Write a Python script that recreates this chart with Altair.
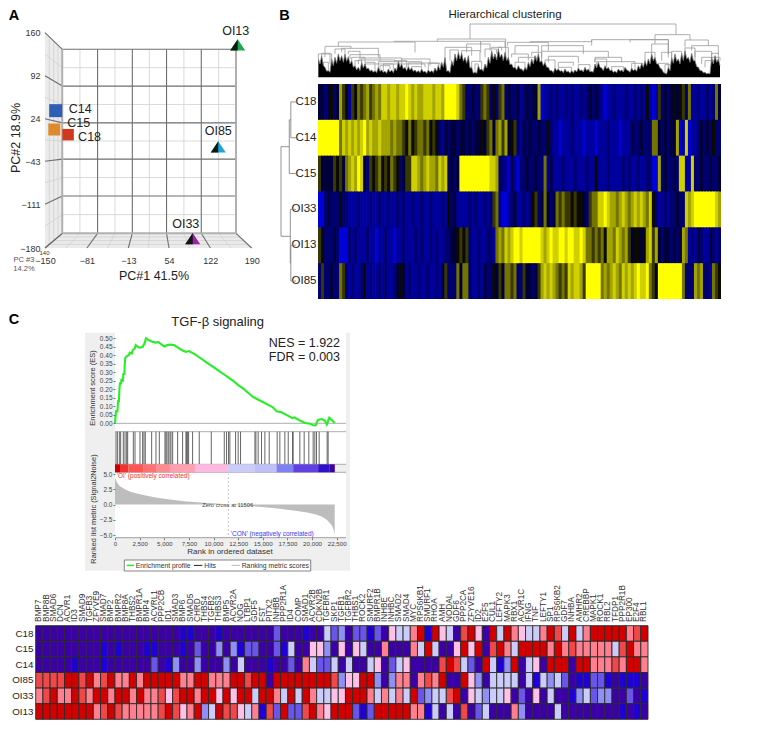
import altair as alt
import pandas as pd

FONT = "Liberation Sans"

# ---------- Panel A data ----------
PC1_TICKS = [-150, -81, -13, 54, 122, 190]
PC2_TICKS = [-180, -111, -43, 24, 92, 160]
SAMPLES_SQ = ["C14", "C15", "C18"]
SQ_PC1 = [-132.4, -134.7, -112]
SQ_PC2 = [36.9, 7.1, -1]
SQ_COL = ["#2f5fb5", "#e08a2e", "#cf3a1f"]
SQ_SIZE = [169, 144, 132]
SAMPLES_TR = ["OI13", "OI85", "OI33"]
TR_PC1 = [167, 135, 93]
TR_PC2 = [140.7, -20.4, -165]
TR_COL = ["#1fa84e", "#1ea4d8", "#a020a8"]

# ---------- Panel B data ----------
ROWS_B = ["C18", "C14", "C15", "OI33", "OI13", "OI85"]
STRIPES = {
 "C18": "3323423"+"75"+"4"+"1"+"5465"+"675676"+"88788788"+"987877"+"8887887"+"99998"+"65"+"22322"+"56524"+"2562"+"32231"
      + "23233"+"7"+"0112"+"12112121121"+"23232"+"101121112112121"+"4"+"101"+"5"+"2323"+"43"+"452"+"6"+"1121121"+"263",
 "C14": "9999999"+"6878787"+"8978"+"7787"+"776766"+"5464"+"5665"+"6454"+"2132"+"33233"+"23233"+"43563"+"6757"+"34521"
      + "3232232"+"242"+"11011121110111011121110111"+"3223222"+"66"+"323233"+"7"+"0"+"1"+"8"+"011"+"23232"+"4"+"22",
 "C15": "53"+"333"+"545"+"3"+"67"+"8798"+"32"+"5456454654"+"23"+"55"+"887678776878"+"2323"+"99999999998"+"87"+"22103102"
      + "232232"+"26"+"131"+"1121112111211"+"4"+"111211112121121122"+"00"+"7"+"232232"+"88"+"11"+"8"+"223223223",
 "OI33": "00"+"2322"+"242"+"2"+"111211"+"121121121121211211211211121"+"4231"+"11121211212"+"5"+"6"+"10012311"
      + "212"+"45"+"23"+"6"+"323"+"6565545"+"443"+"2"+"566"+"8898776787678787"+"68"+"4"+"2112122322"+"878"+"9999999"+"87",
 "OI13": "54"+"22232"+"000"+"21211"+"1211011211011211121211212112"+"233"+"4545"+"211211221"+"676878998"
      + "999999"+"8"+"78988998998898"+"66565"+"647"+"768767"+"5"+"34434"+"7857"+"32332323"+"7"+"6"+"12132113212",
 "OI85": "25"+"22322"+"65"+"212112"+"4"+"1211212112"+"343"+"1211211211213"+"5"+"222"+"6"+"3"+"6"+"6"+"21121322"+"4"+"3536"+"656"+"22"
      + "5"+"3323"+"5"+"78787"+"6565"+"87887"+"5"+"99999"+"6"+"7678768787"+"89889"+"65"+"3"+"99999999"+"6"+"222"+"767"+"221"+"654",
}
PAL_B = ["#0000d8", "#00009c", "#00006e", "#00003a", "#0a0a00", "#383800", "#747400", "#a4a400", "#d0d000", "#ffff00"]

DENDRO_PEAK = [55,65,30,20,55,60,70,65,70,62,50,35,30,45,40,28,22,20,30,22,18,25,22,28,48,40,30,32,28,22,20,25,18,22,20,28,35,45,60,20,
 50,70,75,72,60,65,30,15,35,25,40,60,80,70,85,70,75,60,40,30,35,25,30,45,55,65,70,50,45,30,20,28,25,20,25,18,20,22,28,22,30,25,18,40,45,
 28,35,30,22,18,25,22,30,20,28,24,35,42,50,55,70,60,40,25,12,30,60,70,55,72,80,60,72,50,30,20,15,12,60,65,55]
DENDRO_VALLEY = [40,35,18,15,35,42,50,45,48,40,30,22,20,28,25,18,15,14,18,15,12,16,14,20,30,25,20,22,18,15,14,16,12,15,14,18,22,30,18,14,
 35,50,55,48,42,28,12,12,22,18,28,42,55,52,60,50,50,38,28,22,25,18,22,32,40,48,45,35,30,20,14,20,18,14,16,12,14,16,20,16,20,16,15,28,30,
 20,25,20,15,14,18,16,22,15,20,18,25,30,35,40,50,40,28,15,10,20,42,48,40,50,55,45,50,32,20,14,10,10,40,45,35]
LINKS = [
 (465,1083,160,115,128),(367,572,115,108,60),(238,497,108,106,75),(70,300,106,93,75),(30,108,93,60,87),(80,190,87,75,60),
 (100,135,78,70,55),(105,195,68,55,50),(140,260,58,45,50),(130,240,52,40,45),(190,320,47,30,35),(260,345,55,40,35),
 (150,330,40,25,30),(280,370,43,30,30),(10,50,70,55,50),(390,470,90,60,65),(440,495,80,60,45),(455,525,100,75,80),
 (497,570,108,100,90),(530,560,90,85,80),(578,700,105,95,80),(600,670,95,70,60),(590,640,70,60,50),(610,665,60,45,40),
 (680,805,95,78,70),(680,880,78,60,60),(700,790,63,45,42),(730,775,45,30,35),(840,920,60,45,45),(845,960,47,30,25),
 (830,1060,113,95,70),(645,830,107,105,113),(945,1060,113,105,70),(1020,1125,128,100,112),(1010,1060,100,70,60),
 (1040,1070,75,50,60),(1110,1180,112,90,95),(1130,1210,95,80,70),(1140,1190,78,60,60),(1160,1215,60,40,50),(1170,1200,50,30,35),
 (20,45,72,65,40),(60,90,85,70,70),(110,150,60,50,45),(150,180,45,28,20),(195,225,35,22,25),(240,275,50,48,30),(290,320,32,22,25),
 (340,375,42,20,35),(405,430,82,50,75),(470,500,48,30,25),(510,545,85,60,70),(550,580,90,85,60),(600,630,45,30,30),(650,680,75,65,50),
 (690,720,52,45,28),(730,770,30,20,18),(790,825,38,28,18),(840,875,55,45,30),(890,925,32,18,22),(950,985,42,28,42),(990,1020,75,50,60),
 (1030,1060,42,40,30),(1070,1100,78,60,72),(1110,1140,88,80,50),(1190,1210,72,60,55),(25,40,45,30,20),(120,140,50,35,45),(205,235,40,18,22),
 (480,490,40,15,35),(1050,1065,38,12,30),
]
ROW_LINKS = [
 (0.5, 1.5, 1.0, 0, 0), (1.0, 2.5, 1.3, 1.0, 0), (4.5, 5.5, 1.0, 0, 0), (3.5, 5.0, 1.1, 0, 1.0), (1.75, 4.25, 2.9, 1.3, 1.1),
]

# ---------- Panel C data ----------
RANKS = [0,100,250,300,400,450,500,600,650,800,850,950,1000,1050,1200,1400,1500,1700,1800,2000,2100,2300,2500,2800,3000,3150,3400,3800,4100,4400,4700,5000,5300,5600,6000,6400,6800,7200,7500,8000,8500,9000,9500,10000,10500,11000,11500,12000,12500,13000,13500,14000,14500,15000,15500,16000,16400,16900,17400,18000,18200,18800,19300,19800,20100,20350,20600,21000,21300,21500,21750,22000,22300]
ES = [0,.07,.07,.13,.13,.2,.235,.235,.255,.25,.29,.29,.36,.385,.395,.40,.415,.41,.43,.44,.46,.45,.445,.45,.47,.50,.49,.48,.475,.478,.465,.452,.46,.463,.46,.445,.43,.42,.425,.41,.39,.37,.35,.33,.31,.29,.27,.25,.225,.205,.18,.155,.14,.125,.11,.095,.07,.065,.05,.03,.035,.015,.002,-.002,-.012,-.013,.02,.025,.015,-.008,.033,.02,.002]
HITS = [100,240,440,575,845,1015,1185,1285,1860,2030,2535,2805,2940,3075,3720,4160,4500,5070,5170,5270,5410,5580,5680,5850,6355,6860,7200,7270,7370,7470,7875,8550,9770,11090,11320,11525,11660,12240,12500,12740,14200,14300,14530,14870,15210,15650,16460,16730,17240,17580,18020,18080,18760,19200,19670,20110,20280,20450,20720,21530,21630]
BAR_EDGES = [0,507,1352,2870,4225,5577,8112,11492,14196,16393,18083,20618,21800,22308]
BAR_COLS = ["#cc0000","#ee3333","#ff5555","#ff7070","#ff8a90","#ff9fb0","#ffb8e0","#ccccfb","#c0c0f8","#8080f5","#6040e0","#3010c8","#4000a0"]
M_RANK = [0,200,500,1000,1500,2000,3000,4000,5000,6000,7000,8000,9000,10000,11000,11500,12500,13500,14500,15500,16500,17500,18500,19500,20500,21000,21500,22000,22200,22300]
M_VAL = [4.4,3.6,3.0,2.5,2.15,1.9,1.5,1.2,.95,.75,.55,.42,.3,.2,.07,0,-.12,-.22,-.35,-.5,-.65,-.85,-1.05,-1.3,-1.7,-2.0,-2.5,-3.4,-4.2,-4.9]

GENES = ["BMP7","BMP8B","SMAD6","DCN","ACVR1","ID3","SMAD9","TGFB3","ZFYVE9","SMAD7","BMP2","BMPR2","BMP8A","THBS2","BMPR1A","BMP4","ACVRL1","PPP2CB","ID1","SMAD3","BMP6","SMAD5","CHRD","THBS4","TGFB2","THBS3","BMP5","ACVR2A","NOG","LTBP1","GDF5","FST","PITX2","INHBB","PPP2R1A","ID4","COMP","SMAD1","ACVR2B","CDKN2B","TGFBR1","SKP1","TGFB1","TGFBR2","THBS1","ROCK2","SMURF2","BMPR1B","INHBE","INHBC","SMAD2","SMAD4","MYC","RPS6KB1","SMURF1","RHOA","AMH","NODAL","GDF6","PPP2CA","ZFYVE16","ID2","E2F5","CUL1","LEFTY2","MAPK3","RBX1","ACVR1C","IFNG","TNF","LEFTY1","SP1","RPS6KB2","GDF7","INHBA","AMHR2","CREBBP","MAPK1","ROCK1","RBL2","TFDP1","PPP2R1B","EP300","E2F4","RBL1"]
ROWS_C = ["C18", "C15", "C14", "OI85", "OI33", "OI13"]
HEAT_C = {
 "C18": [1]*20+[0,0,1,1,1,0,1,1,1,1,1,1,1,2,1,1,1,0,1,1,4,2,3,1]+[2,2,0,2,1,5,4,4,6,8,0,8,5,4,1,7,8,5,1,8,4,8,6,5,4,4,6,8,7,4,8,4,6,8,8,8,8,8,6,7,8],
 "C15": [1,1,1,1,1,1,1,1,1,0,1,0,1,1,1,0,0,1,1,1,0,1,2,1,1,3,1,3,0,2,2,1,1,2,0,4,1,1,5,5,3,1,5,1]+[5,4,1,1,6,1,1,1,6,4,8,4,1,1,5,8,5,8,1,7,8,6,4,8,8,8,8,6,8,6,7,6,6,6,6,6,4,7,8,6,6],
 "C14": [1,1,1,1,1,0,1,1,1,0,1,1,1,1,1,1,2,1,0,3,1,1,3,1,1,1,3,1,4,1,1,1,0,1,1,2,1,6,4,2,2,4,1,4]+[1,1,4,5,1,2,4,5,1,1,1,1,7,8,7,4,2,1,8,4,0,3,8,1,4,5,1,8,8,8,1,8,8,6,6,6,7,6,8,8,6],
 "OI85": [7,7,7,7,8,8,7,8,6,7,8,6,6,8,6,8,8,8,8,8,6,6,8,8,6,6,6,8,8,7,8,8,1,8,8,8,8,8,8,8,8,7,3,5]+[5,8,8,3,1,3,6,6,1,6,7,6,8,1,1,8,5,3,1,4,4,4,4,1,4,0,4,3,4,2,1,0,0,2,2,0,1,0,0,0,1],
 "OI33": [6,7,8,6,6,8,7,6,8,8,6,8,8,6,8,6,6,7,5,7,8,8,6,8,8,5,8,5,8,8,4,8,8,6,4,8,4,8,6,4,4,5,5,8]+[8,8,6,4,6,4,6,4,8,2,3,4,4,7,8,1,5,4,3,4,4,5,1,2,1,5,1,4,1,1,0,3,4,2,3,3,1,1,2,1,0],
 "OI13": [8,8,8,8,8,8,8,8,6,7,8,7,6,6,6,6,6,7,8,7,5,6,8,3,4,8,7,7,5,4,6,0,7,2,8,2,2,7,8,6,5,8,8,8]+[2,0,2,8,8,8,8,8,6,6,0,4,1,4,1,7,1,2,4,1,1,1,6,3,1,1,1,1,4,1,1,1,1,1,1,1,1,0,1,0,1],
}
PAL_C = ["#2000d8", "#3c00a8", "#6a55ea", "#8f8ff5", "#ccccfa", "#ffc0e8", "#ff7f8f", "#f04848", "#d40000"]

# ---------- helpers ----------
ONE = alt.Data(values=[{"a": 1}])

def sc(a, b, domain):
    return alt.Scale(domain=list(domain), range=[a - 8, b - 8], nice=False, zero=False, clamp=False)

def txt(label, sx, sy, size=10, color="#222", align="center", angle=0, weight="normal", baseline="middle"):
    kw = dict(fontSize=size, font=FONT, color=color, align=align, baseline=baseline, fontWeight=weight)
    if angle:
        kw["angle"] = angle
    return alt.Chart(ONE).mark_text(**kw).encode(x=alt.value(sx - 8), y=alt.value(sy - 8), text=alt.value(label))

def box(x0, x1, y0, y1, fill, stroke=None, sw=0):
    kw = dict(fill=fill)
    if stroke:
        kw.update(stroke=stroke, strokeWidth=sw)
    return alt.Chart(ONE).mark_rect(**kw).encode(x=alt.value(x0 - 8), x2=alt.value(x1 - 8), y=alt.value(y0 - 8), y2=alt.value(y1 - 8))

def hline(x0, x1, y, color="#888", w=1):
    return alt.Chart(ONE).mark_rule(color=color, strokeWidth=w).encode(x=alt.value(x0 - 8), x2=alt.value(x1 - 8), y=alt.value(y - 8))

layers = []

# ---------- Panel A ----------
XA = sc(45, 251.7, (-150, 190))
YA = sc(248, 32.7, (-180, 160))
BX0, BX1 = -121.5, 164.2
BY0, BY1 = -156.8, 133.8

def project(p1, p2, t):
    bx = BX0 + (p1 + 150) * (BX1 - BX0) / 340
    by = BY0 + (p2 + 180) * (BY1 - BY0) / 340
    return p1 + t * (bx - p1), p2 + t * (by - p2)

def seg(a, b):
    return {"x": a[0], "y": a[1], "x2": b[0], "y2": b[1]}

mid_x = [(a + b) / 2 for a, b in zip(PC1_TICKS, PC1_TICKS[1:])]
mid_y = [(a + b) / 2 for a, b in zip(PC2_TICKS, PC2_TICKS[1:])]
L, R, B, T = PC1_TICKS[0], PC1_TICKS[-1], PC2_TICKS[0], PC2_TICKS[-1]
minor, major = [], []
for v in mid_x:
    minor.append(seg(project(v, B, 1), project(v, T, 1)))
    minor.append(seg(project(v, B, 0), project(v, B, 1)))
for v in mid_y:
    minor.append(seg(project(L, v, 1), project(R, v, 1)))
    minor.append(seg(project(L, v, 0), project(L, v, 1)))
for t in [0.25, 0.5, 0.75]:
    minor.append(seg(project(L, B, t), project(R, B, t)))
    minor.append(seg(project(L, B, t), project(L, T, t)))
for v in PC1_TICKS:
    major.append(seg(project(v, B, 1), project(v, T, 1)))
    major.append(seg(project(v, B, 0), project(v, B, 1)))
for v in PC2_TICKS:
    major.append(seg(project(L, v, 1), project(R, v, 1)))
    major.append(seg(project(L, v, 0), project(L, v, 1)))

floor_x0, floor_y = project(L, B, 1)
floor_x1, _ = project(R, B, 1)
floor = pd.DataFrame({"x": [L, floor_x0, floor_x1, R], "y": [B, floor_y, floor_y, B], "y2": [B, B, B, B]})
wx, wy0 = project(L, B, 1)
_, wy1 = project(L, T, 1)
wall = pd.DataFrame({"x": [L, wx], "y": [B, wy0], "y2": [T, wy1]})
for d in (floor, wall):
    layers.append(alt.Chart(d).mark_area(color="#ebebeb", line=False, opacity=1).encode(
        x=alt.X("x:Q", scale=XA, axis=None), y=alt.Y("y:Q", scale=YA, axis=None), y2="y2:Q"))
layers.append(alt.Chart(pd.DataFrame(minor)).mark_rule(color="#d0d0d0", strokeWidth=0.8).encode(
    x=alt.X("x:Q", scale=XA, axis=None), x2="x2:Q", y=alt.Y("y:Q", scale=YA, axis=None), y2="y2:Q"))
layers.append(alt.Chart(pd.DataFrame(major)).mark_rule(color="#6e6e6e", strokeWidth=1.1).encode(
    x=alt.X("x:Q", scale=XA, axis=alt.Axis(orient="bottom", values=PC1_TICKS, ticks=False, domain=False, grid=False, labelFontSize=9, labelFont=FONT, labelColor="#333", labelPadding=6, labelOverlap=False, labelFlush=False, offset=250 - 732, title=None)),
    x2="x2:Q",
    y=alt.Y("y:Q", scale=YA, axis=alt.Axis(orient="left", values=PC2_TICKS, ticks=False, domain=False, grid=False, labelFontSize=9, labelFont=FONT, labelColor="#333", labelPadding=4, labelOverlap=False, labelFlush=False, offset=8 - 44, title=None)),
    y2="y2:Q"))
edge = [seg(project(R, B, 1), project(R, T, 1)), seg(project(L, B, 1), project(L, T, 1)), seg(project(L, B, 1), project(R, B, 1))]
layers.append(alt.Chart(pd.DataFrame(edge)).mark_rule(color="#b0b0b0", strokeWidth=1.8).encode(
    x=alt.X("x:Q", scale=XA, axis=None), x2="x2:Q", y=alt.Y("y:Q", scale=YA, axis=None), y2="y2:Q"))

sq = pd.DataFrame({"s": SAMPLES_SQ, "pc1": SQ_PC1, "pc2": SQ_PC2, "c": SQ_COL, "z": SQ_SIZE})
layers.append(alt.Chart(sq).mark_point(filled=True, shape="square", opacity=1).encode(
    x=alt.X("pc1:Q", scale=XA, axis=None), y=alt.Y("pc2:Q", scale=YA, axis=None),
    color=alt.Color("c:N", scale=None), size=alt.Size("z:Q", scale=None)))
tr = pd.DataFrame({"s": SAMPLES_TR, "pc1": TR_PC1, "pc2": TR_PC2, "c": TR_COL})
layers.append(alt.Chart(tr).mark_point(filled=True, shape="M -1 0.75 L 0 -0.75 L 1 0.75 Z", opacity=1, size=225).encode(
    x=alt.X("pc1:Q", scale=XA, axis=None), y=alt.Y("pc2:Q", scale=YA, axis=None), color=alt.Color("c:N", scale=None)))
layers.append(alt.Chart(tr).mark_point(filled=True, shape="M -1 0.75 L 0 -0.75 L 0 0.75 Z", opacity=1, size=225, color="#0c1a14").encode(
    x=alt.X("pc1:Q", scale=XA, axis=None), y=alt.Y("pc2:Q", scale=YA, axis=None)))

OFFS = {"C14": (13, -2, "left"), "C15": (13, -7, "left"), "C18": (10, 2, "left"), "OI13": (-2, -14, "center"), "OI85": (0, -16, "center"), "OI33": (-7, -15, "center")}
labs = pd.concat([sq[["s", "pc1", "pc2"]], tr[["s", "pc1", "pc2"]]])
for s, (dx, dy, al) in OFFS.items():
    layers.append(alt.Chart(labs[labs.s == s]).mark_text(fontSize=12.5, font=FONT, color="#222", align=al, dx=dx, dy=dy).encode(
        x=alt.X("pc1:Q", scale=XA, axis=None), y=alt.Y("pc2:Q", scale=YA, axis=None), text="s:N"))

layers += [
    txt("A", 14, 16, 14.5, "#000", weight="bold"),
    txt("PC#1 41.5%", 154, 276, 12.5),
    txt("PC#2 18.9%", 16, 138, 12.5, angle=270),
    txt("PC #3", 24, 260, 7.5, "#555"),
    txt("14.2%", 24, 269, 7.5, "#555"),
    txt("140", 44.5, 252.5, 6, "#333"),
]

# ---------- Panel B ----------
XB = sc(318, 721, (0, 134))
YB = sc(84, 299, (0, 6))
recs = []
for r, name in enumerate(ROWS_B):
    s = STRIPES[name]
    for i, ch in enumerate(s):
        recs.append({"x": i, "x2": i + 1.25 if i < len(s) - 1 else i + 1, "r": r, "r2": r + 1.03 if r < 5 else r + 1, "lvl": int(ch)})
layers.append(alt.Chart(pd.DataFrame(recs)).mark_rect().encode(
    x=alt.X("x:Q", scale=XB, axis=None), x2="x2:Q", y=alt.Y("r:Q", scale=YB, axis=None), y2="r2:Q",
    color=alt.Color("lvl:O", scale=alt.Scale(domain=list(range(10)), range=PAL_B), legend=None)))

row_lab = pd.DataFrame({"s": ROWS_B, "r": [i + 0.5 for i in range(6)]})
layers.append(alt.Chart(row_lab).mark_text(fontSize=11.5, font=FONT, color="#222", align="right").encode(
    x=alt.value(316.5 - 8), y=alt.Y("r:Q", scale=YB, axis=None), text="s:N"))

XT = sc(281, 296, (2.9, 0))
def tree_layers(rows):
    h = pd.DataFrame([{"a": a, "b": b, "d": d} for a, b, d, _, _ in rows])
    v = pd.DataFrame([{"r": a, "d": d, "d2": da} for a, b, d, da, db in rows] + [{"r": b, "d": d, "d2": db} for a, b, d, da, db in rows])
    return [
        alt.Chart(h).mark_rule(color="#888", strokeWidth=0.9).encode(x=alt.X("d:Q", scale=XT, axis=None), y=alt.Y("a:Q", scale=YB, axis=None), y2="b:Q"),
        alt.Chart(v).mark_rule(color="#888", strokeWidth=0.9).encode(x=alt.X("d:Q", scale=XT, axis=None), x2="d2:Q", y=alt.Y("r:Q", scale=YB, axis=None)),
    ]
layers += tree_layers(ROW_LINKS)

XD = sc(315, 725, (0, 1230))
YD = sc(77.3, 24, (0, 160))
px, ph = [], []
for i, (a, b) in enumerate(zip(DENDRO_PEAK, DENDRO_VALLEY)):
    px += [10 * (i + 1), 10 * (i + 1) + 5]
    ph += [a, b]
prof = pd.DataFrame({"x": px, "h": ph})
links = pd.DataFrame(LINKS, columns=["xl", "xr", "h", "hl", "hr"])
layers.append(alt.Chart(links).mark_rule(color="#9a9a9a", strokeWidth=0.8).encode(
    x=alt.X("xl:Q", scale=XD, axis=None), x2="xr:Q", y=alt.Y("h:Q", scale=YD, axis=None)))
layers.append(alt.Chart(links).mark_rule(color="#9a9a9a", strokeWidth=0.8).encode(
    x=alt.X("xl:Q", scale=XD, axis=None), y=alt.Y("h:Q", scale=YD, axis=None), y2="hl:Q"))
layers.append(alt.Chart(links).mark_rule(color="#9a9a9a", strokeWidth=0.8).encode(
    x=alt.X("xr:Q", scale=XD, axis=None), y=alt.Y("h:Q", scale=YD, axis=None), y2="hr:Q"))
layers.append(alt.Chart(prof).mark_area(color="#000", opacity=1, line={"color": "#777", "strokeWidth": 0.8}).encode(
    x=alt.X("x:Q", scale=XD, axis=None), y=alt.Y("h:Q", scale=YD, axis=None)))
layers += [
    txt("B", 284.5, 16, 14.5, "#000", weight="bold"),
    txt("Hierarchical clustering", 505, 15, 11.5),
]

# ---------- Panel C: enrichment plot ----------
layers += [
    box(85, 350, 332.7, 570.7, "#efefef"),
    box(115, 346, 332.7, 431.7, "#ffffff"),
    box(115, 346, 431.7, 464.3, "#ffffff"),
    box(115, 346, 472.3, 537.7, "#ffffff"),
    hline(115, 346, 431.7, "#999", 0.8),
    hline(115, 346, 464.3, "#999", 0.8),
    hline(115, 346, 472.3, "#999", 0.8),
    hline(115, 346, 537.7, "#888", 0.8),
]
XR = sc(115, 336.7, (0, 22500))
YE = sc(423.3, 338.3, (0, 0.5))
YM = sc(535, 474, (-5, 5))
YH = sc(464.3, 431.7, (0, 1))

layers.append(alt.Chart(pd.DataFrame({"x": [0, 23440], "y": [0, 0]})).mark_line(color="#999", strokeWidth=0.8).encode(
    x=alt.X("x:Q", scale=XR, axis=None), y=alt.Y("y:Q", scale=YE, axis=None)))
layers.append(alt.Chart(pd.DataFrame({"r": RANKS, "es": ES})).mark_line(color="#25f025", strokeWidth=2.1).encode(
    x=alt.X("r:Q", scale=XR, axis=None),
    y=alt.Y("es:Q", scale=YE, axis=alt.Axis(orient="left", zindex=1, values=[0, .05, .1, .15, .2, .25, .3, .35, .4, .45, .5], format=".2f", tickSize=2, tickColor="#777", domain=False, grid=False, labelFontSize=6.5, labelFont=FONT, labelColor="#444", labelPadding=1, labelOverlap=False, labelFlush=False, offset=8 - 115, title=None))))
layers.append(alt.Chart(pd.DataFrame({"r": HITS, "a": 0, "b": 1})).mark_rule(color="#555", strokeWidth=0.9).encode(
    x=alt.X("r:Q", scale=XR, axis=None), y=alt.Y("a:Q", scale=YH, axis=None), y2="b:Q"))
bars = pd.DataFrame({"x": BAR_EDGES[:-1], "x2": BAR_EDGES[1:], "c": BAR_COLS, "a": 0, "b": 1})
YBAR = sc(472.3, 464.3, (0, 1))
layers.append(alt.Chart(bars).mark_rect().encode(
    x=alt.X("x:Q", scale=XR, axis=None), x2="x2:Q", y=alt.Y("a:Q", scale=YBAR, axis=None), y2="b:Q", color=alt.Color("c:N", scale=None)))
layers.append(alt.Chart(pd.DataFrame({"r": [11506, 11506], "y": [-5, 5]})).mark_line(color="#aaa", strokeWidth=0.7, strokeDash=[2, 2]).encode(
    x=alt.X("r:Q", scale=XR, axis=None), y=alt.Y("y:Q", scale=YM, axis=None)))
layers.append(alt.Chart(pd.DataFrame({"r": M_RANK, "m": M_VAL})).mark_area(color="#bdbdbd", opacity=1).encode(
    x=alt.X("r:Q", scale=XR, axis=alt.Axis(orient="bottom", zindex=1, values=list(range(0, 22501, 2500)), format=",d", tickSize=2, tickColor="#777", domain=False, grid=False, labelFontSize=6.2, labelFont=FONT, labelColor="#444", labelPadding=1, labelOverlap=False, labelFlush=False, offset=537.7 - 732, title=None)),
    y=alt.Y("m:Q", scale=YM, axis=alt.Axis(orient="left", zindex=1, values=[-5, -2.5, 0, 2.5, 5], format=".1f", tickSize=2, tickColor="#777", domain=False, grid=False, labelFontSize=6.5, labelFont=FONT, labelColor="#444", labelPadding=1, labelOverlap=False, labelFlush=False, offset=8 - 115, title=None)),
    y2=alt.Y2(datum=0)))
layers += [
    txt("C", 14, 320, 14.5, "#000", weight="bold"),
    txt("TGF-β signaling", 217.7, 322, 13),
    txt("NES = 1.922", 340, 342.7, 12.5, align="right"),
    txt("FDR = 0.003", 340, 357, 12.5, align="right"),
    txt("Enrichment score (ES)", 93, 388, 7.5, "#333", angle=270),
    txt("Ranked list metric (Signal2Noise)", 94, 509, 7.4, "#333", angle=270),
    txt("Rank in ordered dataset", 230, 552, 8, "#333"),
    txt("Zero cross at 11506", 227.7, 505, 5.8, "#444"),
    txt("'OI' (positively correlated)", 116.7, 475.6, 6.5, "#f03333", align="left"),
    txt("'CON' (negatively correlated)", 230.7, 533.5, 6.5, "#3a3af0", align="left"),
    box(124.3, 310.7, 560, 571, "#ffffff", "#666", 0.8),
    hline(126.7, 134, 565.4, "#25f025", 1.6),
    txt("Enrichment profile", 135.7, 565.6, 6.8, "#333", align="left"),
    hline(194, 202.3, 565.4, "#222", 1),
    txt("Hits", 204.3, 565.6, 6.8, "#333", align="left"),
    hline(231.7, 240, 565.4, "#bbb", 1),
    txt("Ranking metric scores", 241.7, 565.6, 6.8, "#333", align="left"),
]

# ---------- Panel C: gene heatmap ----------
XC = sc(35.7, 648, (0, len(GENES)))
YC = sc(625.7, 719.3, (0, 6))
rows = []
for r, name in enumerate(ROWS_C):
    for i, v in enumerate(HEAT_C[name][:len(GENES)]):
        rows.append({"x": i, "x2": i + 1, "r": r, "r2": r + 1, "lvl": v})
layers.append(alt.Chart(pd.DataFrame(rows)).mark_rect(stroke="#2a2a2a", strokeWidth=0.9).encode(
    x=alt.X("x:Q", scale=XC, axis=None), x2="x2:Q", y=alt.Y("r:Q", scale=YC, axis=None), y2="r2:Q",
    color=alt.Color("lvl:O", scale=alt.Scale(domain=list(range(9)), range=PAL_C), legend=None)))
gl = pd.DataFrame({"g": GENES, "x": [i + 0.5 for i in range(len(GENES))]})
layers.append(alt.Chart(gl).mark_text(fontSize=8.2, font=FONT, color="#333", angle=270, align="left", baseline="middle").encode(
    x=alt.X("x:Q", scale=XC, axis=None), y=alt.value(622 - 8), text="g:N"))
rl = pd.DataFrame({"s": ROWS_C, "r": [i + 0.5 for i in range(6)]})
layers.append(alt.Chart(rl).mark_text(fontSize=9.8, font=FONT, color="#222", align="right").encode(
    x=alt.value(33.5 - 8), y=alt.Y("r:Q", scale=YC, axis=None), text="s:N"))

chart = alt.layer(*layers).resolve_scale(x="independent", y="independent", color="independent", size="independent").properties(
    width=748, height=724, padding=0, background="#ffffff"
).configure_view(stroke=None)

chart.save("out.html", embed_options={"renderer": "svg", "actions": False})
